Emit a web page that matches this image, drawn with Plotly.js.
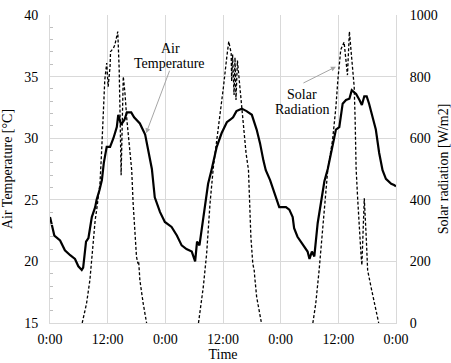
<!DOCTYPE html>
<html>
<head>
<meta charset="utf-8">
<script src="https://cdn.plot.ly/plotly-3.0.1.min.js"></script>
<style>html,body{margin:0;padding:0;background:#fff;}#chart{width:451px;height:363px;}</style>
</head>
<body>
<div id="chart"></div>
<script>
// Time axis (hours from start) tick positions and labels
const timeTickVals = [0, 12, 24, 36, 48, 60, 72];
const timeTickText = ['0:00', '12:00', '0:00', '12:00', '0:00', '12:00', '0:00'];

// Air temperature [°C]
const tempHours = [0, 0.35, 0.9, 2.1, 3.1, 4.2, 5.2, 5.9, 6.6, 6.9, 7.5, 8.0, 8.7, 9.4, 9.7, 10.3, 10.8, 11.2, 11.8, 12.5, 13.2, 13.9, 14.2, 14.8, 15.5, 16.0, 16.9, 17.5, 18.7, 19.8, 20.5, 21.2, 21.8, 22.9, 23.9, 25.3, 26.4, 27.4, 28.4, 29.5, 30.2, 30.6, 31.1, 31.6, 32.3, 32.9, 33.6, 34.7, 35.7, 36.8, 37.5, 38.1, 38.8, 39.9, 40.9, 42.0, 43.0, 43.7, 44.4, 44.9, 45.8, 47.0, 47.7, 49.1, 49.8, 50.5, 50.8, 51.5, 52.2, 52.9, 53.6, 54.0, 54.5, 55.0, 55.7, 56.4, 57.1, 57.8, 58.8, 59.5, 60.2, 60.9, 61.6, 62.3, 62.8, 63.7, 64.4, 64.9, 65.4, 65.9, 66.4, 67.1, 67.8, 68.5, 69.2, 69.9, 71.0, 71.6, 72.0];
const tempValues = [23.6, 23.1, 22.1, 21.7, 20.9, 20.5, 20.2, 19.6, 19.3, 19.5, 21.6, 21.9, 23.6, 24.4, 25.0, 25.8, 26.6, 28.0, 29.3, 29.3, 30.0, 30.9, 31.9, 31.1, 31.5, 32.1, 32.1, 31.7, 31.2, 30.3, 29.0, 27.5, 25.2, 24.0, 23.2, 22.8, 22.1, 21.3, 21.0, 20.8, 20.0, 21.6, 21.3, 22.8, 24.7, 26.3, 27.4, 29.3, 30.4, 31.3, 31.5, 31.7, 32.2, 32.4, 32.2, 31.9, 30.7, 29.6, 28.2, 27.4, 26.6, 25.2, 24.4, 24.4, 24.2, 23.6, 22.7, 22.0, 21.6, 21.3, 20.8, 20.2, 20.8, 20.4, 23.1, 24.8, 26.5, 27.5, 29.3, 30.7, 30.9, 32.8, 33.1, 33.2, 33.9, 33.6, 33.1, 32.7, 33.4, 33.4, 32.8, 31.7, 30.7, 28.8, 27.4, 26.7, 26.3, 26.2, 26.1];

// Solar radiation [W/m2] (null = night gap)
const solarHours = [6.7, 7.6, 8.3, 8.7, 9.0, 9.4, 9.7, 10.0, 10.4, 10.75, 11.1, 11.4, 11.8, 12.1, 12.5, 12.6, 13.2, 13.5, 14.1, 14.4, 14.6, 14.8, 15.25, 15.6, 16.0, 16.6, 17.0, 17.3, 17.7, 18.0, 18.3, 18.45, 18.6, 18.7, 19.4, 20.1, 25,
  30.9, 31.9, 32.6, 33.3, 34.0, 35.0, 36.1, 36.8, 37.2, 37.7, 37.8, 38.0, 38.3, 38.5, 38.7, 39.0, 39.5, 40.2, 40.8, 41.3, 41.5, 41.8, 42.2, 42.5, 42.6, 43.0, 44.0, 49,
  54.7, 55.3, 56.0, 56.6, 57.1, 57.8, 58.8, 59.5, 59.9, 60.5, 61.2, 61.6, 61.9, 62.3, 62.6, 63.3, 63.5, 63.7, 64.0, 64.4, 64.7, 64.9, 65.2, 65.4, 65.8, 66.1, 66.8, 67.5, 68.2, 68.4];
const solarValues = [0, 63, 139, 215, 269, 334, 366, 410, 453, 560, 692, 789, 844, 767, 833, 881, 892, 903, 946, 822, 659, 480, 800, 746, 659, 551, 497, 388, 280, 215, 193, 200, 165, 139, 63, 0, null,
  0, 117, 226, 388, 507, 627, 767, 865, 914, 876, 785, 872, 740, 862, 724, 852, 767, 659, 551, 497, 388, 280, 193, 170, 150, 85, 0, null,
  0, 63, 171, 280, 388, 497, 594, 702, 789, 887, 912, 844, 805, 946, 887, 767, 659, 502, 410, 280, 226, 188, 334, 405, 280, 171, 117, 63, 9, 0];

const FONT = '"Liberation Serif", "Times New Roman", Times, serif';
const GRID = '#d9d9d9';

const traces = [
  {
    x: tempHours, y: tempValues, type: 'scatter', mode: 'lines', name: 'Air Temperature',
    line: {color: '#000', width: 2.2}, yaxis: 'y', hoverinfo: 'skip'
  },
  {
    x: solarHours, y: solarValues, type: 'scatter', mode: 'lines', name: 'Solar Radiation',
    line: {color: '#000', width: 1.3, dash: '3px,2px'}, yaxis: 'y2', connectgaps: false, hoverinfo: 'skip'
  }
];

const layout = {
  width: 451, height: 363,
  margin: {l: 50, r: 55, t: 15, b: 40},
  paper_bgcolor: '#fff', plot_bgcolor: '#fff',
  showlegend: false,
  font: {family: FONT, size: 14, color: '#000'},
  xaxis: {
    range: [0, 72], tickvals: timeTickVals, ticktext: timeTickText,
    showgrid: true, gridcolor: GRID, gridwidth: 1,
    showline: true, linecolor: GRID, linewidth: 1, mirror: false,
    ticks: '', zeroline: false, ticklabelstandoff: 3,
    tickfont: {family: FONT, size: 14, color: '#000'},
    title: {text: 'Time', font: {family: FONT, size: 14, color: '#000'}, standoff: 3}
  },
  yaxis: {
    range: [15, 40], dtick: 5, tick0: 15,
    showgrid: true, gridcolor: GRID, gridwidth: 1,
    showline: true, linecolor: GRID, linewidth: 1,
    ticks: '', zeroline: false, ticklabelstandoff: 8,
    minor: {ticks: 'inside', dtick: 1, ticklen: 3, tickcolor: '#bfbfbf', showgrid: false},
    tickfont: {family: FONT, size: 14, color: '#000'},
    title: {text: 'Air Temperature [°C]', font: {family: FONT, size: 14, color: '#000'}, standoff: 10}
  },
  yaxis2: {
    overlaying: 'y', side: 'right', range: [0, 1000], dtick: 200,
    showgrid: false, showline: true, linecolor: GRID, linewidth: 1,
    ticks: '', zeroline: false, ticklabelstandoff: 10,
    tickfont: {family: FONT, size: 14, color: '#000'},
    title: {text: 'Solar radiation [W/m2]', font: {family: FONT, size: 14, color: '#000'}, standoff: 9}
  },
  annotations: [
    {xref: 'paper', yref: 'paper', x: (170 - 50) / 346, y: (323 - 49) / 308, text: 'Air', showarrow: false, xanchor: 'center', yanchor: 'middle', font: {family: FONT, size: 14, color: '#000'}},
    {xref: 'paper', yref: 'paper', x: (169 - 50) / 346, y: (323 - 64) / 308, text: 'Temperature', showarrow: false, xanchor: 'center', yanchor: 'middle', font: {family: FONT, size: 14, color: '#000'}},
    {xref: 'paper', yref: 'paper', x: (302 - 50) / 346, y: (323 - 95) / 308, text: 'Solar', showarrow: false, xanchor: 'center', yanchor: 'middle', font: {family: FONT, size: 14, color: '#000'}},
    {xref: 'paper', yref: 'paper', x: (302 - 50) / 346, y: (323 - 110) / 308, text: 'Radiation', showarrow: false, xanchor: 'center', yanchor: 'middle', font: {family: FONT, size: 14, color: '#000'}},
    {xref: 'x', yref: 'y', x: 20.0, y: 30.4, text: '', showarrow: true, ax: 24, ay: -64, arrowhead: 2, arrowsize: 1, arrowwidth: 1, arrowcolor: '#a6a6a6', standoff: 0},
    {xref: 'x', yref: 'y', x: 59.5, y: 35.8, text: '', showarrow: true, ax: -34, ay: 17, arrowhead: 2, arrowsize: 1, arrowwidth: 1, arrowcolor: '#a6a6a6', standoff: 0}
  ]
};

Plotly.newPlot('chart', traces, layout, {staticPlot: true, displayModeBar: false});
</script>
</body>
</html>
